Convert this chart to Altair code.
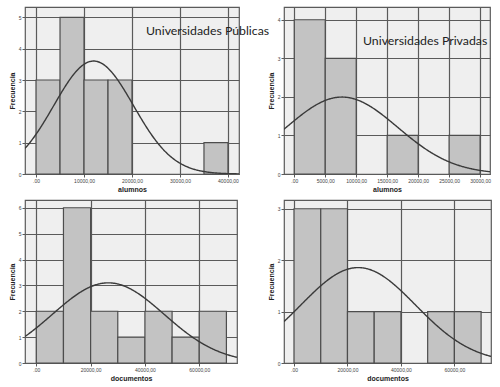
import altair as alt
import numpy as np
import pandas as pd

# ---- data ----
# Panel 1: Universidades Públicas - alumnos
pub_alu_start = [0, 5000, 10000, 15000, 35000]
pub_alu_count = [3, 5, 3, 3, 1]
pub_alu_bw = 5000
pub_alu_mean, pub_alu_sd, pub_alu_n = 12000, 8300, 15

# Panel 2: Universidades Privadas - alumnos
pri_alu_start = [0, 5000, 15000, 25000]
pri_alu_count = [4, 3, 1, 1]
pri_alu_bw = 5000
pri_alu_mean, pri_alu_sd, pri_alu_n = 7700, 9000, 9

# Panel 3: Universidades Públicas - documentos
pub_doc_start = [0, 10000, 20000, 30000, 40000, 50000, 60000]
pub_doc_count = [2, 6, 2, 1, 2, 1, 2]
pub_doc_bw = 10000
pub_doc_mean, pub_doc_sd, pub_doc_n = 26500, 20600, 16

# Panel 4: Universidades Privadas - documentos
pri_doc_start = [0, 10000, 20000, 30000, 50000, 60000]
pri_doc_count = [3, 3, 1, 1, 1, 1]
pri_doc_bw = 10000
pri_doc_mean, pri_doc_sd, pri_doc_n = 24000, 21500, 10

BG = "#efefef"
BAR = "#c3c3c3"
LINE = "#4d4d4d"
GRID = "#5a5a5a"


def panel(starts, counts, bw, mean, sd, n, xdom, ydom, xticks, yticks,
          xtitle, w, h, label=None, lx=0, ly=0):
    bars = pd.DataFrame({"x0": starts,
                         "x1": [s + bw for s in starts],
                         "c": counts})
    xs = np.linspace(xdom[0], xdom[1], 300)
    ys = n * bw * np.exp(-0.5 * ((xs - mean) / sd) ** 2) / (sd * np.sqrt(2 * np.pi))
    curve = pd.DataFrame({"x": xs, "y": ys})

    xscale = alt.Scale(domain=xdom, nice=False, zero=False)
    yscale = alt.Scale(domain=ydom, nice=False)
    common = dict(labelFontSize=5, labelColor="#444", labelPadding=1,
                  tickSize=3, tickColor=GRID, domain=False,
                  grid=True, gridColor=GRID, gridWidth=1.2, gridOpacity=1,
                  titleFontSize=7, titleFontWeight="bold", titleColor="#222",
                  labelFont="Liberation Sans", titleFont="Liberation Sans",
                  labelFlush=False, labelOverlap=False, labelBound=False)
    xaxis = alt.Axis(values=xticks, title=xtitle, titlePadding=2,
                     labelExpr="datum.value == 0 ? '.00' : datum.value + ',00'",
                     **common)
    yaxis = alt.Axis(values=yticks, title="Frecuencia", format="d",
                     titlePadding=3, **common)

    rect = alt.Chart(bars).mark_rect(fill=BAR, stroke=LINE, strokeWidth=1.2).encode(
        x=alt.X("x0:Q", scale=xscale, axis=xaxis),
        x2="x1:Q",
        y=alt.Y("c:Q", scale=yscale, axis=yaxis),
        y2=alt.datum(0),
    )
    line = alt.Chart(curve).mark_line(color="#3a3a3a", strokeWidth=1.4, clip=True).encode(
        x=alt.X("x:Q", scale=xscale, axis=xaxis),
        y=alt.Y("y:Q", scale=yscale, axis=yaxis),
    )
    layers = [rect, line]
    if label:
        txt = alt.Chart(pd.DataFrame({"t": [label]})).mark_text(
            align="left", baseline="middle", font="Lato", fontSize=12.3,
            color="#222"
        ).encode(text="t:N", x=alt.value(lx), y=alt.value(ly))
        layers.append(txt)
    return alt.layer(*layers).properties(width=w, height=h)


p1 = panel(pub_alu_start, pub_alu_count, pub_alu_bw, pub_alu_mean, pub_alu_sd,
           pub_alu_n, [-2300, 42300], [0, 5.33], [0, 10000, 20000, 30000, 40000],
           [0, 1, 2, 3, 4, 5], "alumnos", 214, 167, "Universidades Públicas", 121, 24)
p2 = panel(pri_alu_start, pri_alu_count, pri_alu_bw, pri_alu_mean, pri_alu_sd,
           pri_alu_n, [-1660, 31600], [0, 4.33],
           [0, 5000, 10000, 15000, 20000, 25000, 30000],
           [0, 1, 2, 3, 4], "alumnos", 206, 167, "Universidades Privadas", 79, 34)
p3 = panel(pub_doc_start, pub_doc_count, pub_doc_bw, pub_doc_mean, pub_doc_sd,
           pub_doc_n, [-4160, 73900], [0, 6.3], [0, 20000, 40000, 60000],
           [0, 1, 2, 3, 4, 5, 6], "documentos", 212, 163)
p4 = panel(pri_doc_start, pri_doc_count, pri_doc_bw, pri_doc_mean, pri_doc_sd,
           pri_doc_n, [-3750, 73700], [0, 3.17], [0, 20000, 40000, 60000],
           [0, 1, 2, 3], "documentos", 207, 163)

chart = alt.concat(p1, p2, p3, p4, columns=2).properties(
    bounds="flush",
    align="none",
    spacing=alt.RowColnumber(row=26, column=45),
    padding={"left": 7, "top": 6, "right": 0, "bottom": 0},
    background="white",
).configure_view(fill=BG, stroke=GRID, strokeWidth=1.2)

chart.save("out.html", embed_options={"renderer": "svg", "actions": False})
